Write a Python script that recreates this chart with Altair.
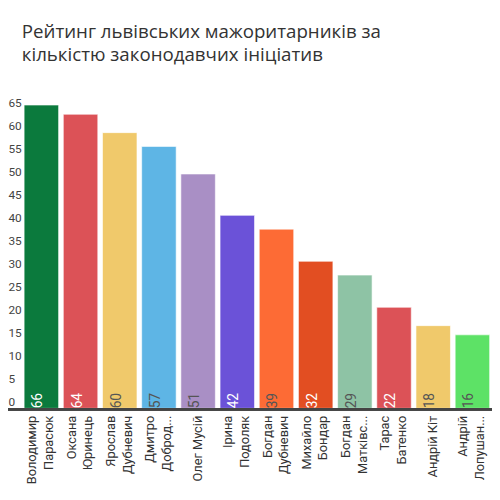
import altair as alt
import pandas as pd

names = [
    "Володимир Парасюк", "Оксана Юринець", "Ярослав Дубневич", "Дмитро Доброд...",
    "Олег Мусій", "Ірина Подоляк", "Богдан Дубневич", "Михайло Бондар",
    "Богдан Матківс...", "Тарас Батенко", "Андрій Кіт", "Андрій Лопушан...",
]
lines = [
    ["Володимир", "Парасюк"], ["Оксана", "Юринець"], ["Ярослав", "Дубневич"],
    ["Дмитро", "Доброд..."], ["Олег Мусій"], ["Ірина", "Подоляк"],
    ["Богдан", "Дубневич"], ["Михайло", "Бондар"], ["Богдан", "Матківс..."],
    ["Тарас", "Батенко"], ["Андрій Кіт"], ["Андрій", "Лопушан..."],
]
values = [66, 64, 60, 57, 51, 42, 39, 32, 29, 22, 18, 16]
colors = ["#0b7a3d", "#dc5257", "#f0c96b", "#5eb5e5", "#a98fc5", "#6b52d8",
          "#fd6b35", "#e24e22", "#8ec3a5", "#dc5257", "#f0c96b", "#5de266"]
text_colors = ["#ffffff", "#ffffff", "#555555", "#555555", "#555555", "#ffffff",
               "#555555", "#ffffff", "#555555", "#ffffff", "#555555", "#555555"]
y_ticks = [0, 5, 10, 15, 20, 25, 30, 35, 40, 45, 50, 55, 60, 65]

df = pd.DataFrame({"name": names, "value": values, "color": colors, "tcolor": text_colors})

label_expr = "{" + ",".join(
    '"%s":[%s]' % (n, ",".join('"%s"' % s for s in l)) for n, l in zip(names, lines)
) + "}[datum.label]"
single = [n for n, l in zip(names, lines) if len(l) == 1]
single_test = " || ".join("datum.value == '%s'" % n for n in single)

x = alt.X("name:N", sort=names, title=None,
          scale=alt.Scale(paddingInner=0.12, paddingOuter=0.06),
          axis=alt.Axis(labelAngle=270, labelFont="Roboto", labelFontSize=13,
                        labelColor="#333333", labelLineHeight=17, labelPadding=7,
                        ticks=False, domain=False, labelExpr=label_expr,
                        labelLimit=200,
                        labelOffset={"condition": {"test": single_test, "value": 0},
                                     "value": -9}))

y_axis = alt.Axis(values=y_ticks, grid=False, domain=False,
                  ticks=False, labelFont="Roboto", labelFontSize=12,
                  labelColor="#444444", labelBaseline="bottom",
                  labelAlign="left", labelPadding=14, labelOverlap=False)

bars = alt.Chart(df).mark_bar(stroke="white", strokeWidth=1, strokeOpacity=0.6).encode(
    x=x,
    y=alt.Y("value:Q", title=None, scale=alt.Scale(domain=[0, 67], nice=False),
            axis=y_axis),
    color=alt.Color("color:N", scale=None, legend=None),
)

texts = alt.Chart(df).transform_calculate(zero="0").mark_text(
    angle=270, align="left", baseline="middle", dy=-3, font="Roboto", fontSize=14
).encode(
    x=alt.X("name:N", sort=names),
    y=alt.Y("zero:Q", axis=y_axis, title=None),
    text=alt.Text("value:Q"),
    color=alt.Color("tcolor:N", scale=None, legend=None),
)

axis_line = alt.Chart(df).mark_rule(color="#444444", strokeWidth=2).encode(
    x=alt.value(-14), x2=alt.value(478), y=alt.value(314)
)

chart = alt.layer(bars, texts, axis_line).properties(
    width=478, height=313,
    autosize=alt.AutoSizeParams(type="none"),
    padding={"left": 14, "top": 90, "right": 0, "bottom": 80},
    title=alt.TitleParams(
        text=["Рейтинг львівських мажоритарників за", "кількістю законодавчих ініціатив"],
        font="Open Sans", fontSize=19, fontWeight="normal", color="#333333",
        anchor="start", frame="group", lineHeight=24, dx=0, offset=32,
    ),
).configure_view(stroke=None)

chart.save("out.html", embed_options={"renderer": "svg", "actions": False})
